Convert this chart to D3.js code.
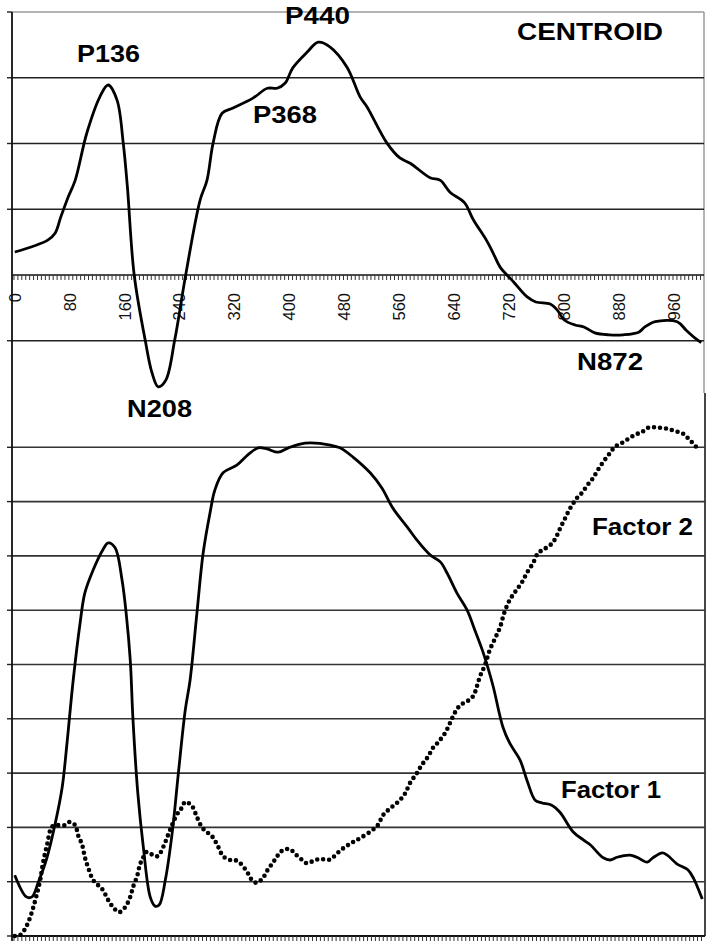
<!DOCTYPE html>
<html><head><meta charset="utf-8">
<script src="https://cdn.jsdelivr.net/npm/d3@7"></script>
<style>html,body{margin:0;padding:0;background:#fff}svg{display:block}</style>
</head><body>
<script>
// ---- DATA ----
const xTickLabels = [0, 80, 160, 240, 320, 400, 480, 560, 640, 720, 800, 880, 960];
const topGrid = [-1, 1, 2, 3];
const bottomGrid = [1, 2, 3, 4, 5, 6, 7, 8, 9];

const centroidMs = [0,25,48,59,67,78,88,105,124,136,149,158,164,174,190,200,209,220,233,249,270,280,289,302,318,347,368,382,394,405,426,442,459,484,503,513,542,561,576,605,620,634,655,668,687,697,707,717,727,746,759,780,790,800,816,829,845,866,886,909,918,933,965,978,991,1000];
const centroidVal = [0.35,0.43,0.53,0.64,0.88,1.19,1.44,2.16,2.71,2.89,2.66,2.01,1.35,0,-0.99,-1.49,-1.70,-1.60,-0.99,0,1.14,1.44,2.01,2.46,2.54,2.69,2.84,2.84,2.92,3.15,3.39,3.54,3.47,3.16,2.71,2.56,2.01,1.78,1.70,1.48,1.44,1.26,1.10,0.84,0.53,0.33,0.12,0,-0.11,-0.33,-0.41,-0.44,-0.53,-0.68,-0.76,-0.79,-0.88,-0.91,-0.91,-0.87,-0.79,-0.71,-0.71,-0.84,-0.96,-1.03];

const factor1Ms = [0,17,25,34,47,59,69,76,85,95,102,114,128,136,146,156,162,168,172,179,187,197,204,210,219,229,238,248,255,265,274,284,291,303,323,339,354,367,383,398,415,430,459,473,492,517,534,550,571,585,604,619,629,643,658,669,680,688,696,710,720,735,745,757,767,781,793,812,827,837,856,866,876,895,905,920,928,942,949,963,979,987,1000];
const factor1Val = [1.12,0.72,0.72,0.98,1.45,2.08,2.74,3.55,4.71,5.76,6.32,6.74,7.11,7.24,7.15,6.56,5.95,5.08,3.98,2.63,1.64,0.72,0.55,0.57,1.03,1.90,3.00,4.16,4.71,5.95,7.05,7.79,8.21,8.53,8.67,8.86,8.99,8.97,8.91,8.99,9.06,9.08,9.04,8.99,8.82,8.53,8.25,7.88,7.53,7.29,7.02,6.89,6.68,6.32,6.00,5.64,5.27,4.95,4.59,3.85,3.55,3.24,2.87,2.50,2.45,2.41,2.28,1.92,1.77,1.68,1.44,1.40,1.45,1.49,1.45,1.36,1.44,1.53,1.49,1.33,1.22,1.07,0.68];

const factor2Ms = [0,8,15,22,27,32,37,41,47,54,61,73,80,88,92,98,102,107,114,121,128,136,143,152,160,168,172,178,182,187,192,201,208,216,223,230,238,243,248,258,265,273,281,288,296,303,313,320,328,338,345,352,361,368,376,383,390,400,408,418,425,434,444,456,463,473,483,492,502,517,528,536,549,560,568,575,585,592,601,608,616,626,633,640,648,659,667,672,677,684,691,699,706,712,720,728,738,745,754,761,768,779,786,793,800,808,818,825,834,841,848,856,866,873,883,892,902,912,921,929,939,950,960,971,979,986,994];
const factor2Val = [0,0.02,0.13,0.33,0.53,0.76,1.03,1.34,1.68,2.01,2.04,2.04,2.10,2.04,1.86,1.68,1.45,1.25,1.03,0.94,0.85,0.66,0.53,0.44,0.52,0.72,0.90,1.10,1.31,1.45,1.55,1.49,1.47,1.64,1.86,2.08,2.28,2.36,2.47,2.39,2.19,1.99,1.90,1.82,1.64,1.47,1.40,1.40,1.34,1.18,1.03,0.98,1.07,1.22,1.36,1.49,1.58,1.60,1.51,1.40,1.34,1.38,1.42,1.40,1.45,1.57,1.66,1.73,1.80,1.92,2.04,2.23,2.38,2.50,2.63,2.82,3.00,3.15,3.30,3.46,3.57,3.74,3.92,4.11,4.25,4.33,4.42,4.59,4.79,4.99,5.27,5.49,5.69,5.95,6.19,6.34,6.52,6.69,6.87,7.05,7.11,7.20,7.31,7.50,7.68,7.88,8.07,8.16,8.32,8.43,8.58,8.73,8.90,9.01,9.08,9.15,9.23,9.28,9.36,9.37,9.36,9.34,9.30,9.26,9.17,9.08,8.97];

// ---- LAYOUT ----
const W = 713, H = 948;
const svg = d3.select("body").append("svg").attr("width", W).attr("height", H);
const FONT = "'Liberation Sans', Arial, Helvetica, sans-serif";

const xTop = d3.scaleLinear().domain([-4, 1004]).range([12, 704]);
const xBot = d3.scaleLinear().domain([-4, 1004]).range([12, 705]);
const yTop = d3.scaleLinear().domain([0, 4]).range([275, 12]);
const yBot = d3.scaleLinear().domain([0, 10]).range([936, 393]);

// ---- TOP CHART ----
const gT = svg.append("g");
gT.append("line").attr("x1", 12).attr("x2", 704).attr("y1", yTop(4)).attr("y2", yTop(4)).attr("stroke", "#9a9a9a").attr("stroke-width", 1.5);
gT.append("line").attr("x1", 704).attr("x2", 704).attr("y1", yTop(4)).attr("y2", 393).attr("stroke", "#9a9a9a").attr("stroke-width", 1.5);
gT.selectAll(".g").data(topGrid).enter().append("line")
  .attr("x1", 12).attr("x2", 704).attr("y1", d => yTop(d)).attr("y2", d => yTop(d))
  .attr("stroke", "#222").attr("stroke-width", 1.4);
gT.selectAll(".lt").data([4, 3, 2, 1, -1]).enter().append("line")
  .attr("x1", 7).attr("x2", 12).attr("y1", d => yTop(d)).attr("y2", d => yTop(d))
  .attr("stroke", "#222").attr("stroke-width", 1.4);
const minorStep = 80 / 14;
const minorTicks = d3.range(-4 + minorStep / 2, 1004, minorStep);
gT.append("line").attr("x1", 12).attr("x2", 704).attr("y1", yTop(0)).attr("y2", yTop(0)).attr("stroke", "#111").attr("stroke-width", 1.6);
gT.selectAll(".mt").data(minorTicks).enter().append("line")
  .attr("x1", d => xTop(d)).attr("x2", d => xTop(d)).attr("y1", yTop(0)).attr("y2", yTop(0) + 5)
  .attr("stroke", "#333").attr("stroke-width", 1);
gT.selectAll(".tl").data(xTickLabels).enter().append("text")
  .attr("transform", d => `translate(${xTop(d)},293) rotate(-90)`)
  .attr("text-anchor", "end").attr("dy", "0.36em")
  .attr("font-family", FONT).attr("font-size", 16.5).attr("fill", "#111")
  .text(d => d);
const lineTop = d3.line().x(d => xTop(d[0])).y(d => yTop(d[1])).curve(d3.curveCatmullRom.alpha(0.5));
gT.append("path").datum(centroidMs.map((m, i) => [m, centroidVal[i]]))
  .attr("d", lineTop).attr("fill", "none").attr("stroke", "#000").attr("stroke-width", 2.8)
  .attr("stroke-linejoin", "round");

// ---- BOTTOM CHART ----
const gB = svg.append("g");
gB.append("line").attr("x1", 705).attr("x2", 705).attr("y1", 393).attr("y2", 936).attr("stroke", "#333").attr("stroke-width", 1.8);
gB.selectAll(".g").data(bottomGrid).enter().append("line")
  .attr("x1", 12).attr("x2", 705).attr("y1", d => yBot(d)).attr("y2", d => yBot(d))
  .attr("stroke", "#333").attr("stroke-width", 1.6);
gB.selectAll(".lt").data(bottomGrid.concat([0])).enter().append("line")
  .attr("x1", 7).attr("x2", 12).attr("y1", d => yBot(d)).attr("y2", d => yBot(d))
  .attr("stroke", "#222").attr("stroke-width", 1.4);
gB.append("line").attr("x1", 12).attr("x2", 705).attr("y1", yBot(0)).attr("y2", yBot(0)).attr("stroke", "#111").attr("stroke-width", 2);
gB.selectAll(".mt").data(minorTicks).enter().append("line")
  .attr("x1", d => xBot(d)).attr("x2", d => xBot(d)).attr("y1", yBot(0)).attr("y2", yBot(0) + 5)
  .attr("stroke", "#333").attr("stroke-width", 1);

const lineBot = d3.line().x(d => xBot(d[0])).y(d => yBot(d[1])).curve(d3.curveCatmullRom.alpha(0.5));
gB.append("path").datum(factor2Ms.map((m, i) => [m, factor2Val[i]]))
  .attr("d", lineBot).attr("fill", "none").attr("stroke", "#000").attr("stroke-width", 4.6)
  .attr("stroke-linecap", "round").attr("stroke-dasharray", "0 6");
gB.append("path").datum(factor1Ms.map((m, i) => [m, factor1Val[i]]))
  .attr("d", lineBot).attr("fill", "none").attr("stroke", "#000").attr("stroke-width", 2.8)
  .attr("stroke-linejoin", "round");

svg.append("line").attr("x1", 12).attr("x2", 12).attr("y1", 12).attr("y2", 941).attr("stroke", "#111").attr("stroke-width", 1.8);

// ---- TEXT LABELS ----
const labelStyle = sel => sel.attr("font-family", FONT).attr("font-weight", "bold").attr("font-size", 23).attr("fill", "#000").attr("lengthAdjust", "spacingAndGlyphs");
labelStyle(svg.append("text").attr("x", 517).attr("y", 40).attr("textLength", 146).text("CENTROID"));
labelStyle(svg.append("text").attr("x", 77).attr("y", 62).attr("textLength", 63).text("P136"));
labelStyle(svg.append("text").attr("x", 285).attr("y", 24).attr("textLength", 65).text("P440"));
labelStyle(svg.append("text").attr("x", 253).attr("y", 123).attr("textLength", 64).text("P368"));
labelStyle(svg.append("text").attr("x", 127).attr("y", 417).attr("textLength", 65).text("N208"));
labelStyle(svg.append("text").attr("x", 577).attr("y", 370).attr("textLength", 66).text("N872"));
labelStyle(svg.append("text").attr("x", 592).attr("y", 535).attr("textLength", 101).text("Factor 2"));
labelStyle(svg.append("text").attr("x", 561).attr("y", 798).attr("textLength", 100).text("Factor 1"));
</script>
</body></html>
